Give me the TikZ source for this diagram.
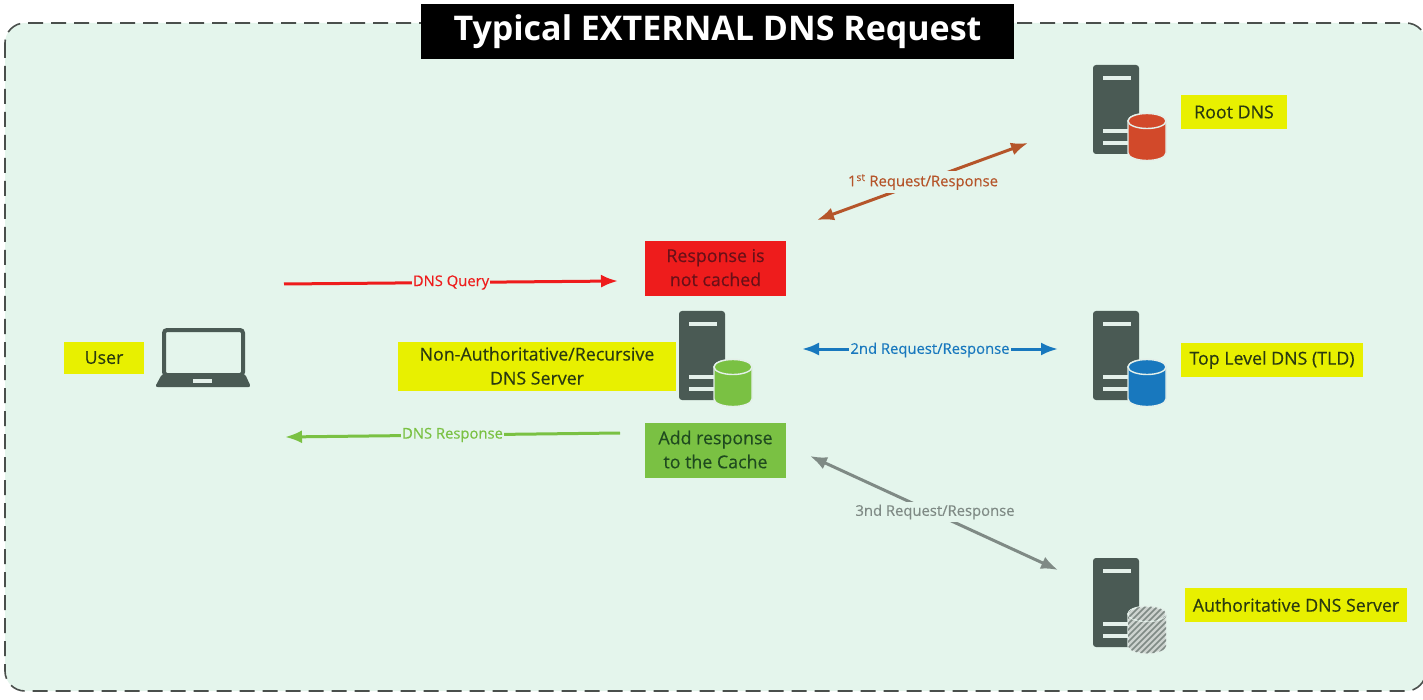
\documentclass[tikz,border=0pt]{standalone}
\usepackage{fontspec}
\setmainfont{Open Sans}
\newfontfamily\medfont[FakeBold=0.35]{Open Sans}
\usetikzlibrary{arrows.meta}
\definecolor{bgpanel}{HTML}{E4F5EC}
\definecolor{framec}{HTML}{4A4F4C}
\definecolor{servc}{HTML}{4A5A54}
\definecolor{lightbar}{HTML}{E4F0EA}
\definecolor{yellowc}{HTML}{E8F000}
\definecolor{redc}{HTML}{EE1C1C}
\definecolor{greenc}{HTML}{7AC143}
\definecolor{brownc}{HTML}{B5552A}
\definecolor{bluec}{HTML}{1878BE}
\definecolor{grayc}{HTML}{7F8A85}
\definecolor{hatchbg}{HTML}{CDD3CF}
\definecolor{dbred}{HTML}{D2492A}
\definecolor{txtc}{HTML}{2A3A10}
\definecolor{txtred}{HTML}{6A1018}
\definecolor{txtgreen}{HTML}{1F4A1F}
\tikzset{
  x=1pt,y=-1pt,
  panel/.style={draw=framec,line width=1.6pt,dash pattern=on 15pt off 8pt,fill=bgpanel,rounded corners=20pt},
  titlebox/.style={fill=black,text=white,font=\bfseries\fontsize{34}{37}\selectfont,minimum width=593pt,minimum height=55pt,inner sep=0pt},
  lab/.style={fill=yellowc,text=txtc,font=\medfont\fontsize{17.8}{24}\selectfont,inner sep=0pt,align=center},
  statebox/.style={font=\medfont\fontsize{17.8}{24}\selectfont,inner sep=0pt,align=center,minimum width=141pt,minimum height=55pt},
  link/.style={line width=3pt,-{Latex[length=17pt,width=13pt]}},
  both/.style={line width=3pt,{Latex[length=17pt,width=13pt]}-{Latex[length=17pt,width=13pt]}},
  linklab/.style={fill=bgpanel,font=\medfont\fontsize{14.8}{17}\selectfont,inner sep=1pt},
  pics/serverbody/.style={code={
    \fill[servc,rounded corners=3pt] (0,0) rectangle (46,89);
    \fill[lightbar] (10,11) rectangle (38,15);
    \fill[lightbar] (10,64) rectangle (36,68);
    \fill[lightbar] (10,76) rectangle (36,80);
  }},
  pics/server/.style={code={
    \pic {serverbody};
    \path[draw=lightbar,line width=1.4pt,fill=#1] (35,56) arc[x radius=19,y radius=7.5,start angle=180,end angle=360] -- (73,88) arc[x radius=19,y radius=7.5,start angle=0,end angle=180] -- cycle;
    \path[draw=lightbar,line width=1.4pt,fill=#1] (54,56) ellipse[x radius=19,y radius=7.5];
  }},
  pics/hatchserver/.style={code={
    \pic {serverbody};
    \path[draw=lightbar,line width=1.4pt,fill=hatchbg] (35,56) arc[x radius=19,y radius=7.5,start angle=180,end angle=360] -- (73,88) arc[x radius=19,y radius=7.5,start angle=0,end angle=180] -- cycle;
    \begin{scope}
      \clip (35,56) arc[x radius=19,y radius=7.5,start angle=180,end angle=360] -- (73,88) arc[x radius=19,y radius=7.5,start angle=0,end angle=180] -- cycle;
      \foreach \k in {-60,-54,...,60} {\draw[grayc,line width=1.5pt] (25+\k,100) -- (85+\k,40);}
    \end{scope}
    \path[draw=lightbar,line width=1.4pt,fill=hatchbg] (54,56) ellipse[x radius=19,y radius=7.5];
    \begin{scope}
      \clip (54,56) ellipse[x radius=19,y radius=7.5];
      \foreach \k in {-60,-54,...,60} {\draw[grayc,line width=1.5pt] (25+\k,100) -- (85+\k,40);}
    \end{scope}
  }},
  pics/laptop/.style={code={
    \draw[servc,line width=4pt,rounded corners=3pt] (10,2) rectangle (89,47);
    \fill[servc,rounded corners=2.5pt] (8,46) -- (91,46) -- (97,59) -- (1,59) -- cycle;
    \fill[lightbar] (39,51) rectangle (58,55);
  }}
}
\begin{document}
\begin{tikzpicture}
\useasboundingbox (0,0) rectangle (1423,700);
\path[panel] (5,23) rectangle (1426,691);
\node[titlebox] (title) at (717.5,31.5) {Typical EXTERNAL DNS Request};

\pic (rootsrv) at (1093,65) {server=dbred};
\pic (tldsrv) at (1093,311) {server=bluec};
\pic (authsrv) at (1093,558) {hatchserver};
\pic (recsrv) at (679,311) {server=greenc};
\pic (lap) at (154,328) {laptop};

\node[lab,minimum width=80pt,minimum height=32pt] (user) at (104,358) {\raisebox{1pt}{User}};
\node[lab,minimum width=278pt,minimum height=49pt] (rec) at (537,366.5) {\raisebox{1.5pt}{Non-Authoritative/Recursive}\\\raisebox{1.5pt}{DNS Server}};
\node[lab,minimum width=106pt,minimum height=34pt] (root) at (1234,112) {Root DNS};
\node[lab,minimum width=182pt,minimum height=34pt] (tld) at (1272,360) {Top Level DNS (TLD)};
\node[lab,minimum width=222pt,minimum height=34pt] (auth) at (1296,605) {Authoritative DNS Server};
\node[statebox,fill=redc,text=txtred] (notcached) at (715.5,268.5) {\raisebox{2pt}{Response is}\\\raisebox{2pt}{not cached}};
\node[statebox,fill=greenc,text=txtgreen] (addcache) at (715.5,450.5) {\raisebox{2pt}{Add response}\\\raisebox{2pt}{to the Cache}};

\coordinate (qa) at (284,284);
\coordinate (qb) at (618,281);
\coordinate (ra) at (620,433);
\coordinate (rb) at (285,437);
\coordinate (fa) at (817,220);
\coordinate (fb) at (1028,143);
\coordinate (sa) at (802,349);
\coordinate (sb) at (1058,349);
\coordinate (ta) at (810,456);
\coordinate (tb) at (1058,570);

\draw[link,redc] (qa) -- node[linklab,text=redc,pos=.5] (qlab) {DNS Query} (qb);
\draw[link,greenc] (ra) -- node[linklab,text=greenc,pos=.5] (rlab) {DNS Response} (rb);
\draw[both,brownc] (fa) -- (fb);
\node[linklab,text=brownc,inner ysep=3pt] (flab) at (923,182) {1\textsuperscript{st} Request/Response};
\draw[both,bluec] (sa) -- node[linklab,text=bluec,pos=.5,yshift=-1pt] (slab) {2nd Request/Response} (sb);
\draw[both,grayc] (ta) -- (tb);
\node[linklab,text=grayc,inner ysep=3pt] (tlab) at (935,512) {3nd Request/Response};
\end{tikzpicture}
\end{document}
